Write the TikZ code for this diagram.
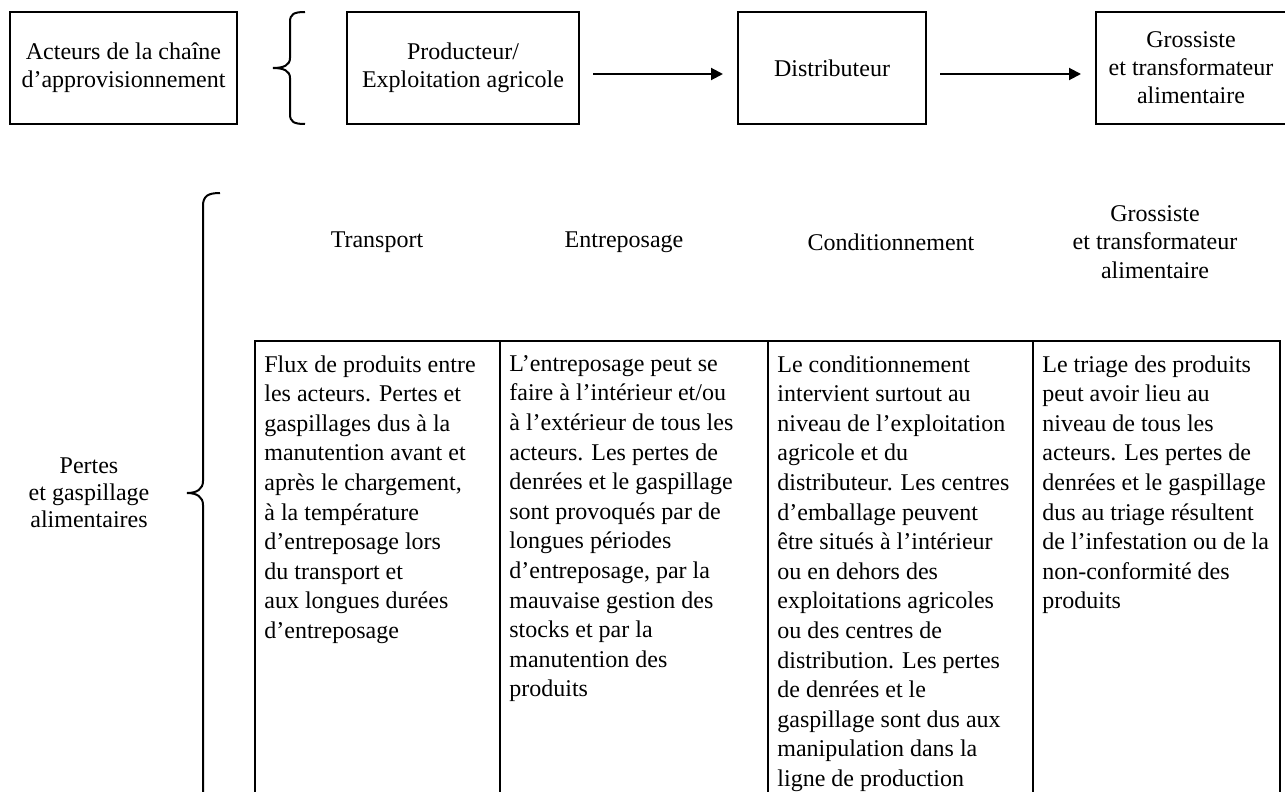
\documentclass[tikz,border=0pt]{standalone}
\usepackage{fontspec}
\setmainfont{Liberation Serif}
\usepackage{tikz}
\usetikzlibrary{arrows.meta, positioning}

\begin{document}
\begin{tikzpicture}[
    x=0.5pt, y=-0.5pt,
    block/.style={rectangle, draw=black, line width=1pt, minimum height=56pt, inner sep=2pt, align=center, font=\fontsize{12}{14}\selectfont},
    line/.style={draw=black, line width=1pt, -{Triangle[length=6pt,width=6pt]}, shorten <=6.5pt, shorten >=7pt},
    trait/.style={draw=black, line width=1pt},
    titre/.style={align=center, inner sep=0pt, font=\fontsize{12}{14.2}\selectfont},
    cellule/.style={anchor=north west, align=left, inner sep=0pt, font=\fontsize{12}{14.8}\selectfont}
]
    \useasboundingbox (0,0) rectangle (1285,792);

    % Acteurs de la chaine
    \node (acteurs) [block, minimum width=113.5pt] at (123.5,68) {Acteurs de la chaîne\\d’approvisionnement};
    \node (prod) [block, minimum width=116pt, right=54pt of acteurs] {Producteur/\\Exploitation agricole};
    \node (distr) [block, minimum width=94pt, right=78.5pt of prod] {Distributeur};
    \node (gross) [block, minimum width=95pt, right=84pt of distr] {Grossiste\\et transformateur\\alimentaire};

    % Accolade du haut
    \draw [trait] (305,12) .. controls (294,12) and (290,14) .. (290,22) -- (290,58)
        .. controls (290,65) and (284,68) .. (273,68)
        .. controls (284,68) and (290,71) .. (290,78) -- (290,114)
        .. controls (290,122) and (294,124) .. (305,124);

    % Connexions
    \path [line] ([yshift=-3pt]prod.east) -- ([yshift=-3pt]distr.west);
    \path [line] ([yshift=-3pt]distr.east) -- ([yshift=-3pt]gross.west);

    % Pertes et gaspillage
    \node (pertes) [titre, font=\fontsize{12}{13.5}\selectfont] at (89,493) {Pertes\\et gaspillage\\alimentaires};
    \draw [trait] (220,193) .. controls (208,193) and (203,196) .. (203,206) -- (203,481)
        .. controls (203,489) and (197,493) .. (187,493)
        .. controls (197,493) and (203,497) .. (203,505) -- (203,792);

    % En-tetes
    \node (htransport) [titre] at (377,242) {Transport};
    \node (hentrepos) [titre] at (624,242) {Entreposage};
    \node (hcondit) [titre] at (891,242) {Conditionnement};
    \node (hgross) [titre] at (1155,242) {Grossiste\\et transformateur\\alimentaire};

    % Tableau
    \draw [trait] (255,792) -- (255,341) -- (1280,341) -- (1280,792);
    \foreach \x in {500,768,1033}
        \draw [trait] (\x,341) -- (\x,792);

    \node (ctransport) [cellule] at (264,355) {Flux de produits entre\\les acteurs. Pertes et\\gaspillages dus à la\\manutention avant et\\après le chargement,\\à la température\\d’entreposage lors\\du transport et\\aux longues durées\\d’entreposage};
    \node (centrepos) [cellule] at (509,355) {L’entreposage peut se\\faire à l’intérieur et/ou\\à l’extérieur de tous les\\acteurs. Les pertes de\\denrées et le gaspillage\\sont provoqués par de\\longues périodes\\d’entreposage, par la\\mauvaise gestion des\\stocks et par la\\manutention des\\produits};
    \node (ccondit) [cellule] at (777,355) {Le conditionnement\\intervient surtout au\\niveau de l’exploitation\\agricole et du\\distributeur. Les centres\\d’emballage peuvent\\être situés à l’intérieur\\ou en dehors des\\exploitations agricoles\\ou des centres de\\distribution. Les pertes\\de denrées et le\\gaspillage sont dus aux\\manipulation dans la\\ligne de production};
    \node (cgross) [cellule] at (1042,355) {Le triage des produits\\peut avoir lieu au\\niveau de tous les\\acteurs. Les pertes de\\denrées et le gaspillage\\dus au triage résultent\\de l’infestation ou de la\\non-conformité des\\produits};
\end{tikzpicture}
\end{document}
